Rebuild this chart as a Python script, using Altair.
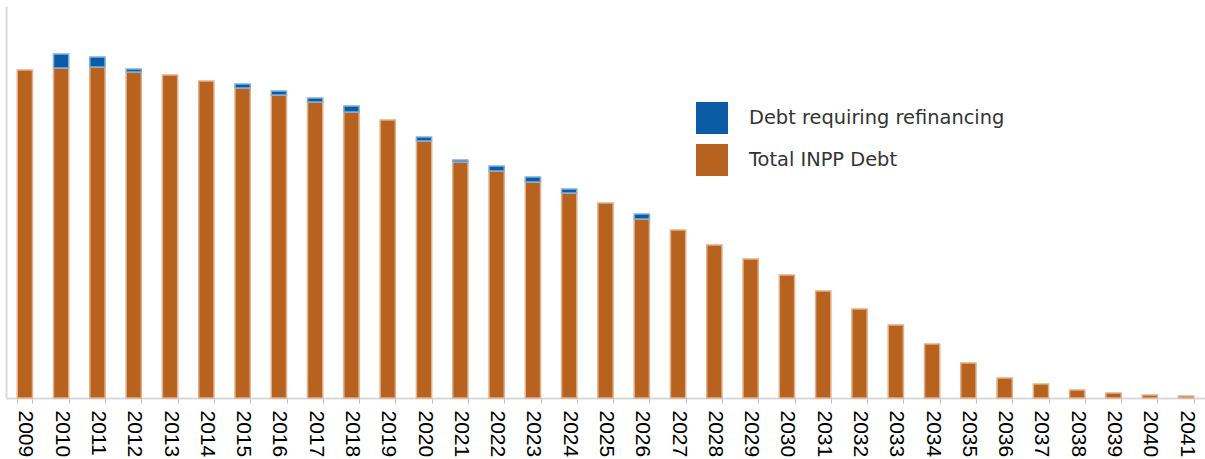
import altair as alt
import pandas as pd

years = [str(y) for y in range(2009, 2042)]
total_debt = [328, 330, 331, 326, 323, 317, 310, 303, 296, 286, 278, 257, 236, 227, 216, 205,
              195, 179, 168, 153, 139, 123, 107, 89, 73, 54, 35, 20, 14, 8, 5, 3, 2]
refinancing = [0, 14, 10, 3, 0, 0, 4, 4, 4, 6, 0, 4, 2, 5, 5, 4,
               0, 5, 0, 0, 0, 0, 0, 0, 0, 0, 0, 0, 0, 0, 0, 0, 0]
series_names = ["Debt requiring refinancing", "Total INPP Debt"]
fill_colors = ["#0B5CA6", "#B8621F"]
edge_colors = ["#7FB0DE", "#E2B08A"]

rows = []
for y, t, r in zip(years, total_debt, refinancing):
    if t > 0:
        rows.append({"year": y, "series": series_names[1], "value": t, "ord": 0})
    if r > 0:
        rows.append({"year": y, "series": series_names[0], "value": r, "ord": 1})
df = pd.DataFrame(rows)

chart = alt.Chart(df).mark_bar(strokeWidth=1.5).encode(
    x=alt.X("year:O", sort=years,
            scale=alt.Scale(paddingInner=0.58, paddingOuter=0.31),
            axis=alt.Axis(title=None, labelAngle=90, labelAlign="left", labelBaseline="middle",
                          labelFont="Liberation Sans", labelFontSize=21, labelColor="#000000",
                          labelPadding=7, tickSize=5, tickColor="#bbbbbb", tickWidth=1,
                          tickBand="extent", domainColor="#d9d9d9", domainWidth=2,
                          grid=False)),
    y=alt.Y("value:Q", stack="zero",
            scale=alt.Scale(domain=[0, 392], nice=False),
            axis=alt.Axis(title=None, labels=False, ticks=False, grid=False,
                          domainColor="#d9d9d9", domainWidth=2)),
    color=alt.Color("series:N",
                    scale=alt.Scale(domain=series_names, range=fill_colors),
                    legend=alt.Legend(title=None, orient="none", legendX=690, legendY=96,
                                      symbolType="square", symbolSize=1024,
                                      symbolStrokeWidth=0, labelFont="DejaVu Sans",
                                      labelFontSize=19.4, labelColor="#333333",
                                      labelLimit=500,
                                      labelOffset=21, rowPadding=10, padding=0)),
    stroke=alt.Stroke("series:N",
                      scale=alt.Scale(domain=series_names, range=edge_colors),
                      legend=None),
    order=alt.Order("ord:Q", sort="ascending"),
).properties(
    width=1199, height=392,
    autosize=alt.AutoSizeParams(type="none"),
    padding={"left": 6, "top": 6, "right": 0, "bottom": 61},
).configure_view(stroke=None)

chart.save("out.html", embed_options={"renderer": "svg", "actions": False})
